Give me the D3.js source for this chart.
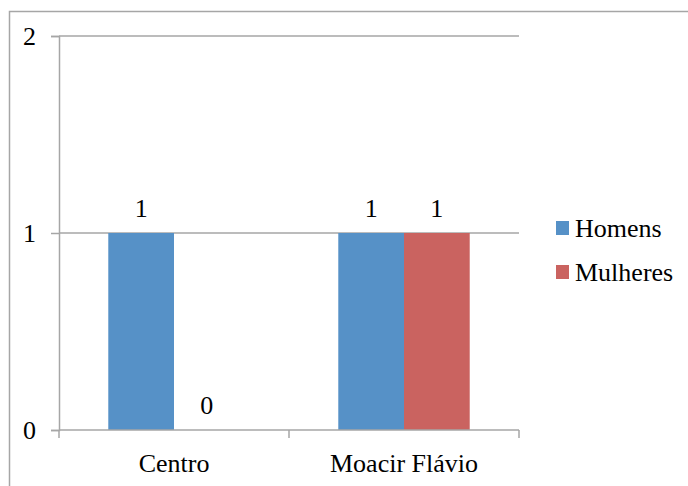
<!DOCTYPE html>
<html>
<head>
<meta charset="utf-8">
<script src="https://cdn.jsdelivr.net/npm/d3@7"></script>
<style>
  html, body { margin: 0; padding: 0; background: #fff; }
  svg { display: block; }
</style>
</head>
<body>
<svg id="chart" width="688" height="486"></svg>
<script>
// Chart data
const categories = ["Centro", "Moacir Flávio"];
const seriesNames = ["Homens", "Mulheres"];
const homens = [1, 1];
const mulheres = [0, 1];
const yTicks = [0, 1, 2];

const colors = { Homens: "#5691C7", Mulheres: "#CA6360" };
const gridColor = "#A6A6A6";
const FONT = "'Liberation Serif'";
const FS = "26px";

const svg = d3.select("#chart");
const W = 688, H = 486;

// Outer chart frame (runs past the bottom/right edges)
svg.append("rect")
  .attr("x", 9.5).attr("y", 11.5)
  .attr("width", W + 20).attr("height", H + 20)
  .attr("fill", "none").attr("stroke", "#A6A6A6").attr("stroke-width", 1.5);

const plot = { left: 59, right: 519, top: 36, bottom: 430 };

const x0 = d3.scaleBand()
  .domain(categories)
  .range([plot.left, plot.right])
  .paddingInner(0).paddingOuter(0);

const x1 = d3.scaleBand()
  .domain(seriesNames)
  .range([0, x0.bandwidth()])
  .paddingInner(0).paddingOuter(0.75);

const y = d3.scaleLinear().domain([0, 2]).range([plot.bottom, plot.top]);

// Horizontal gridlines
svg.append("g")
  .selectAll("line")
  .data(yTicks.filter(d => d > 0))
  .join("line")
  .attr("x1", plot.left).attr("x2", plot.right)
  .attr("y1", d => y(d)).attr("y2", d => y(d))
  .attr("stroke", gridColor).attr("stroke-width", 1.5);

// Bars
const rows = categories.map((c, i) => ({
  category: c,
  values: [
    { series: "Homens", value: homens[i] },
    { series: "Mulheres", value: mulheres[i] }
  ]
}));

const groups = svg.append("g")
  .selectAll("g")
  .data(rows)
  .join("g")
  .attr("transform", d => `translate(${x0(d.category)},0)`);

groups.selectAll("rect")
  .data(d => d.values)
  .join("rect")
  .attr("x", d => x1(d.series))
  .attr("width", x1.bandwidth())
  .attr("y", d => y(d.value))
  .attr("height", d => y(0) - y(d.value))
  .attr("fill", d => colors[d.series]);

// Value labels
groups.selectAll("text")
  .data(d => d.values)
  .join("text")
  .attr("x", d => x1(d.series) + x1.bandwidth() / 2)
  .attr("y", d => y(d.value) - 16)
  .attr("text-anchor", "middle")
  .style("font-family", FONT)
  .style("font-size", FS)
  .attr("fill", "#000")
  .text(d => d3.format("d")(d.value));

// Y axis
const yAxis = svg.append("g")
  .attr("transform", `translate(${plot.left},0)`)
  .call(d3.axisLeft(y).tickValues(yTicks).tickFormat(d3.format("d")).tickSize(8).tickPadding(15));
yAxis.select(".domain").attr("stroke", gridColor).attr("stroke-width", 1.5);
yAxis.selectAll(".tick line").attr("stroke", gridColor).attr("stroke-width", 1.5);
yAxis.selectAll(".tick text")
  .style("font-family", FONT)
  .style("font-size", FS)
  .attr("fill", "#000");

// X axis
const xAxis = svg.append("g")
  .attr("transform", `translate(0,${plot.bottom})`)
  .call(d3.axisBottom(x0).tickSize(0).tickPadding(0));
xAxis.select(".domain").remove();
xAxis.append("line")
  .attr("x1", plot.left).attr("x2", plot.right)
  .attr("stroke", gridColor).attr("stroke-width", 1.5);
xAxis.selectAll(".tick text")
  .attr("dy", null)
  .attr("y", 42)
  .style("font-family", FONT)
  .style("font-size", FS)
  .attr("fill", "#000");
// Category boundary ticks
const bounds = [plot.left, ...categories.map(c => x0(c) + x0.bandwidth())];
xAxis.selectAll(".bound")
  .data(bounds)
  .join("line")
  .attr("class", "bound")
  .attr("x1", d => d).attr("x2", d => d)
  .attr("y1", 0).attr("y2", 8)
  .attr("stroke", gridColor).attr("stroke-width", 1.5);

// Legend
const legend = svg.append("g").attr("transform", "translate(556,221)");
const li = legend.selectAll("g")
  .data(seriesNames)
  .join("g")
  .attr("transform", (d, i) => `translate(0,${i * 44})`);
li.append("rect")
  .attr("width", 13).attr("height", 14)
  .attr("fill", d => colors[d]);
li.append("text")
  .attr("x", 19).attr("y", 16)
  .style("font-family", FONT)
  .style("font-size", FS)
  .attr("fill", "#000")
  .text(d => d);

// Force text layout so the serif face is resolved before first paint
svg.selectAll("text").each(function () { this.getComputedTextLength(); });
</script>
</body>
</html>
